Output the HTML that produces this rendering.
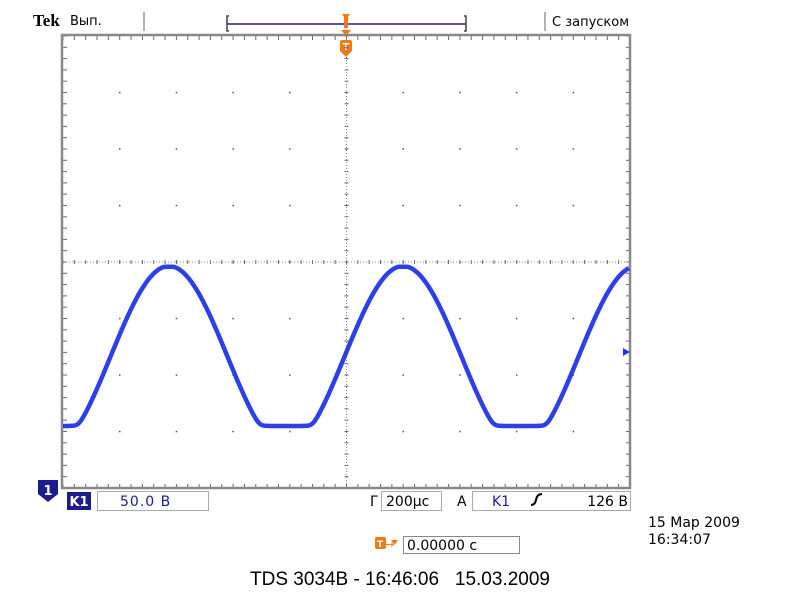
<!DOCTYPE html>
<html><head><meta charset="utf-8"><style>
body{margin:0;background:#fff;width:800px;height:600px;overflow:hidden;font-family:"DejaVu Sans","Liberation Sans",sans-serif}
svg{position:absolute;left:0;top:0}
</style></head><body>
<svg id="s" width="800" height="600" xmlns="http://www.w3.org/2000/svg">
<text x="33" y="26" font-family="Liberation Serif" font-weight="bold" font-size="17" fill="#000">Tek</text>
<text x="70" y="25" font-size="13" fill="#000">Вып.</text>
<line x1="144" y1="12" x2="144" y2="31" stroke="#999" stroke-width="1.5"/>
<line x1="545" y1="12" x2="545" y2="31" stroke="#999" stroke-width="1.5"/>
<text x="552" y="26" font-size="13" fill="#000">С запуском</text>
<line x1="227" y1="24" x2="466" y2="24" stroke="#1c1c8c" stroke-width="1.5"/>
<path d="M229 16 h-2 v15 h2 M464 16 h2 v15 h-2" fill="none" stroke="#444" stroke-width="1.5"/>
<path d="M342 14 h8 l-2 3 v11 h-4 v-11z" fill="#f07a10"/>
<path d="M341 30 h10 l-5 6z" fill="#f07a10"/>
<rect x="340" y="40" width="12" height="12" rx="2" fill="#f07a10"/><path d="M341 52 h10 l-5 5z" fill="#f07a10"/>
<text x="346" y="50" font-size="10" font-weight="bold" fill="#fff" text-anchor="middle">T</text>
<g id="grid"></g>
<rect x="62" y="35" width="568" height="453" fill="none" stroke="#888" stroke-width="2.5"/>
<path id="w" fill="none" stroke="#2236e6" stroke-width="4.5" stroke-linejoin="round" opacity="0.95"/>
<path d="M630 352 l-7 -4 v8z" fill="#1f35d8"/>
<path d="M38 480 h20 v14 l-10 8 l-10 -8z" fill="#1c1c8c"/>
<text x="48" y="495" font-size="13" font-weight="bold" fill="#fff" text-anchor="middle">1</text>
<rect x="67" y="492" width="24" height="18" fill="#1c1c8c"/>
<text x="79" y="506" font-size="13" font-weight="bold" fill="#fff" text-anchor="middle">K1</text>
<rect x="97.5" y="491.5" width="111" height="19" fill="none" stroke="#aaa"/>
<text x="120" y="506" font-size="14" fill="#1c1c8c" letter-spacing="1">50.0 B</text>
<text x="370" y="506" font-size="14" fill="#000">Г</text>
<rect x="381.5" y="491.5" width="60" height="19" fill="none" stroke="#aaa"/>
<text x="386" y="506" font-size="14" fill="#000">200μc</text>
<text x="457" y="506" font-size="14" fill="#000">A</text>
<rect x="472.5" y="491.5" width="158" height="19" fill="none" stroke="#aaa"/>
<text x="492" y="506" font-size="14" fill="#1c1c8c">K1</text>
<path d="M531 505 q4 0 5 -5 q1 -6 6 -6" fill="none" stroke="#000" stroke-width="2"/>
<text x="628" y="506" font-size="14" fill="#000" text-anchor="end">126 B</text>
<text x="648" y="527" font-size="14" fill="#000">15 Мар 2009</text>
<text x="648" y="544" font-size="14" fill="#000">16:34:07</text>
<rect x="375" y="537" width="11" height="12" rx="2" fill="#f07a10"/>
<text x="380" y="547" font-size="9" font-weight="bold" fill="#fff" text-anchor="middle">T</text>
<text x="385" y="548" font-size="11" fill="#f07a10">→</text>
<path d="M391 540 h7 l-3.5 5z" fill="#f07a10"/>
<rect x="403.5" y="536.5" width="116" height="17" fill="none" stroke="#888"/>
<text x="407" y="550" font-size="14" fill="#000">0.00000 c</text>
<text x="400" y="585" font-family="Liberation Sans" font-size="19" fill="#000" text-anchor="middle" xml:space="preserve" style="white-space:pre">TDS 3034B - 16:46:06   15.03.2009</text>
</svg>
<script>
var g=document.getElementById('grid'),h='';
var L=63,R=630,T=36,B=488,dx=(R-L)/10,dy=(B-T)/8;
for(var i=1;i<10;i++){var x=L+i*dx;for(var j=1;j<8;j++){var y=T+j*dy;h+='<rect x="'+(x-0.7)+'" y="'+(y-0.7)+'" width="1.5" height="1.5" fill="#555"/>';}}
var cx=L+5*dx,cy=T+4*dy;
for(var x=L;x<=R;x+=dx/5){h+='<line x1="'+x+'" y1="'+(cy-2)+'" x2="'+x+'" y2="'+(cy+2)+'" stroke="#666" stroke-width="1"/>';h+='<line x1="'+x+'" y1="'+T+'" x2="'+x+'" y2="'+(T+4)+'" stroke="#666" stroke-width="1"/>';h+='<line x1="'+x+'" y1="'+B+'" x2="'+x+'" y2="'+(B-4)+'" stroke="#666" stroke-width="1"/>';}
for(var y=T;y<=B;y+=dy/5){h+='<line x1="'+(cx-2)+'" y1="'+y+'" x2="'+(cx+2)+'" y2="'+y+'" stroke="#666" stroke-width="1"/>';h+='<line x1="'+L+'" y1="'+y+'" x2="'+(L+4)+'" y2="'+y+'" stroke="#666" stroke-width="1"/>';h+='<line x1="'+R+'" y1="'+y+'" x2="'+(R-4)+'" y2="'+y+'" stroke="#666" stroke-width="1"/>';}
h+='<line x1="'+L+'" y1="'+cy+'" x2="'+R+'" y2="'+cy+'" stroke="#888" stroke-width="1" stroke-dasharray="1 2"/>';
h+='<line x1="'+cx+'" y1="'+T+'" x2="'+cx+'" y2="'+B+'" stroke="#888" stroke-width="1" stroke-dasharray="1 2"/>';
g.innerHTML=h;
var d='',k=3;
for(var x=63;x<=629;x+=1){var s=Math.sin(2*Math.PI*(x-344.5)/234);var y=356.6-90.6*s;y=426-k*Math.log(1+Math.exp((426-y)/k));if(y<267)y=267-(267-y)*0.3;d+=(x==63?'M':'L')+x+' '+y.toFixed(1);}
document.getElementById('w').setAttribute('d',d);
</script>
</body></html>
